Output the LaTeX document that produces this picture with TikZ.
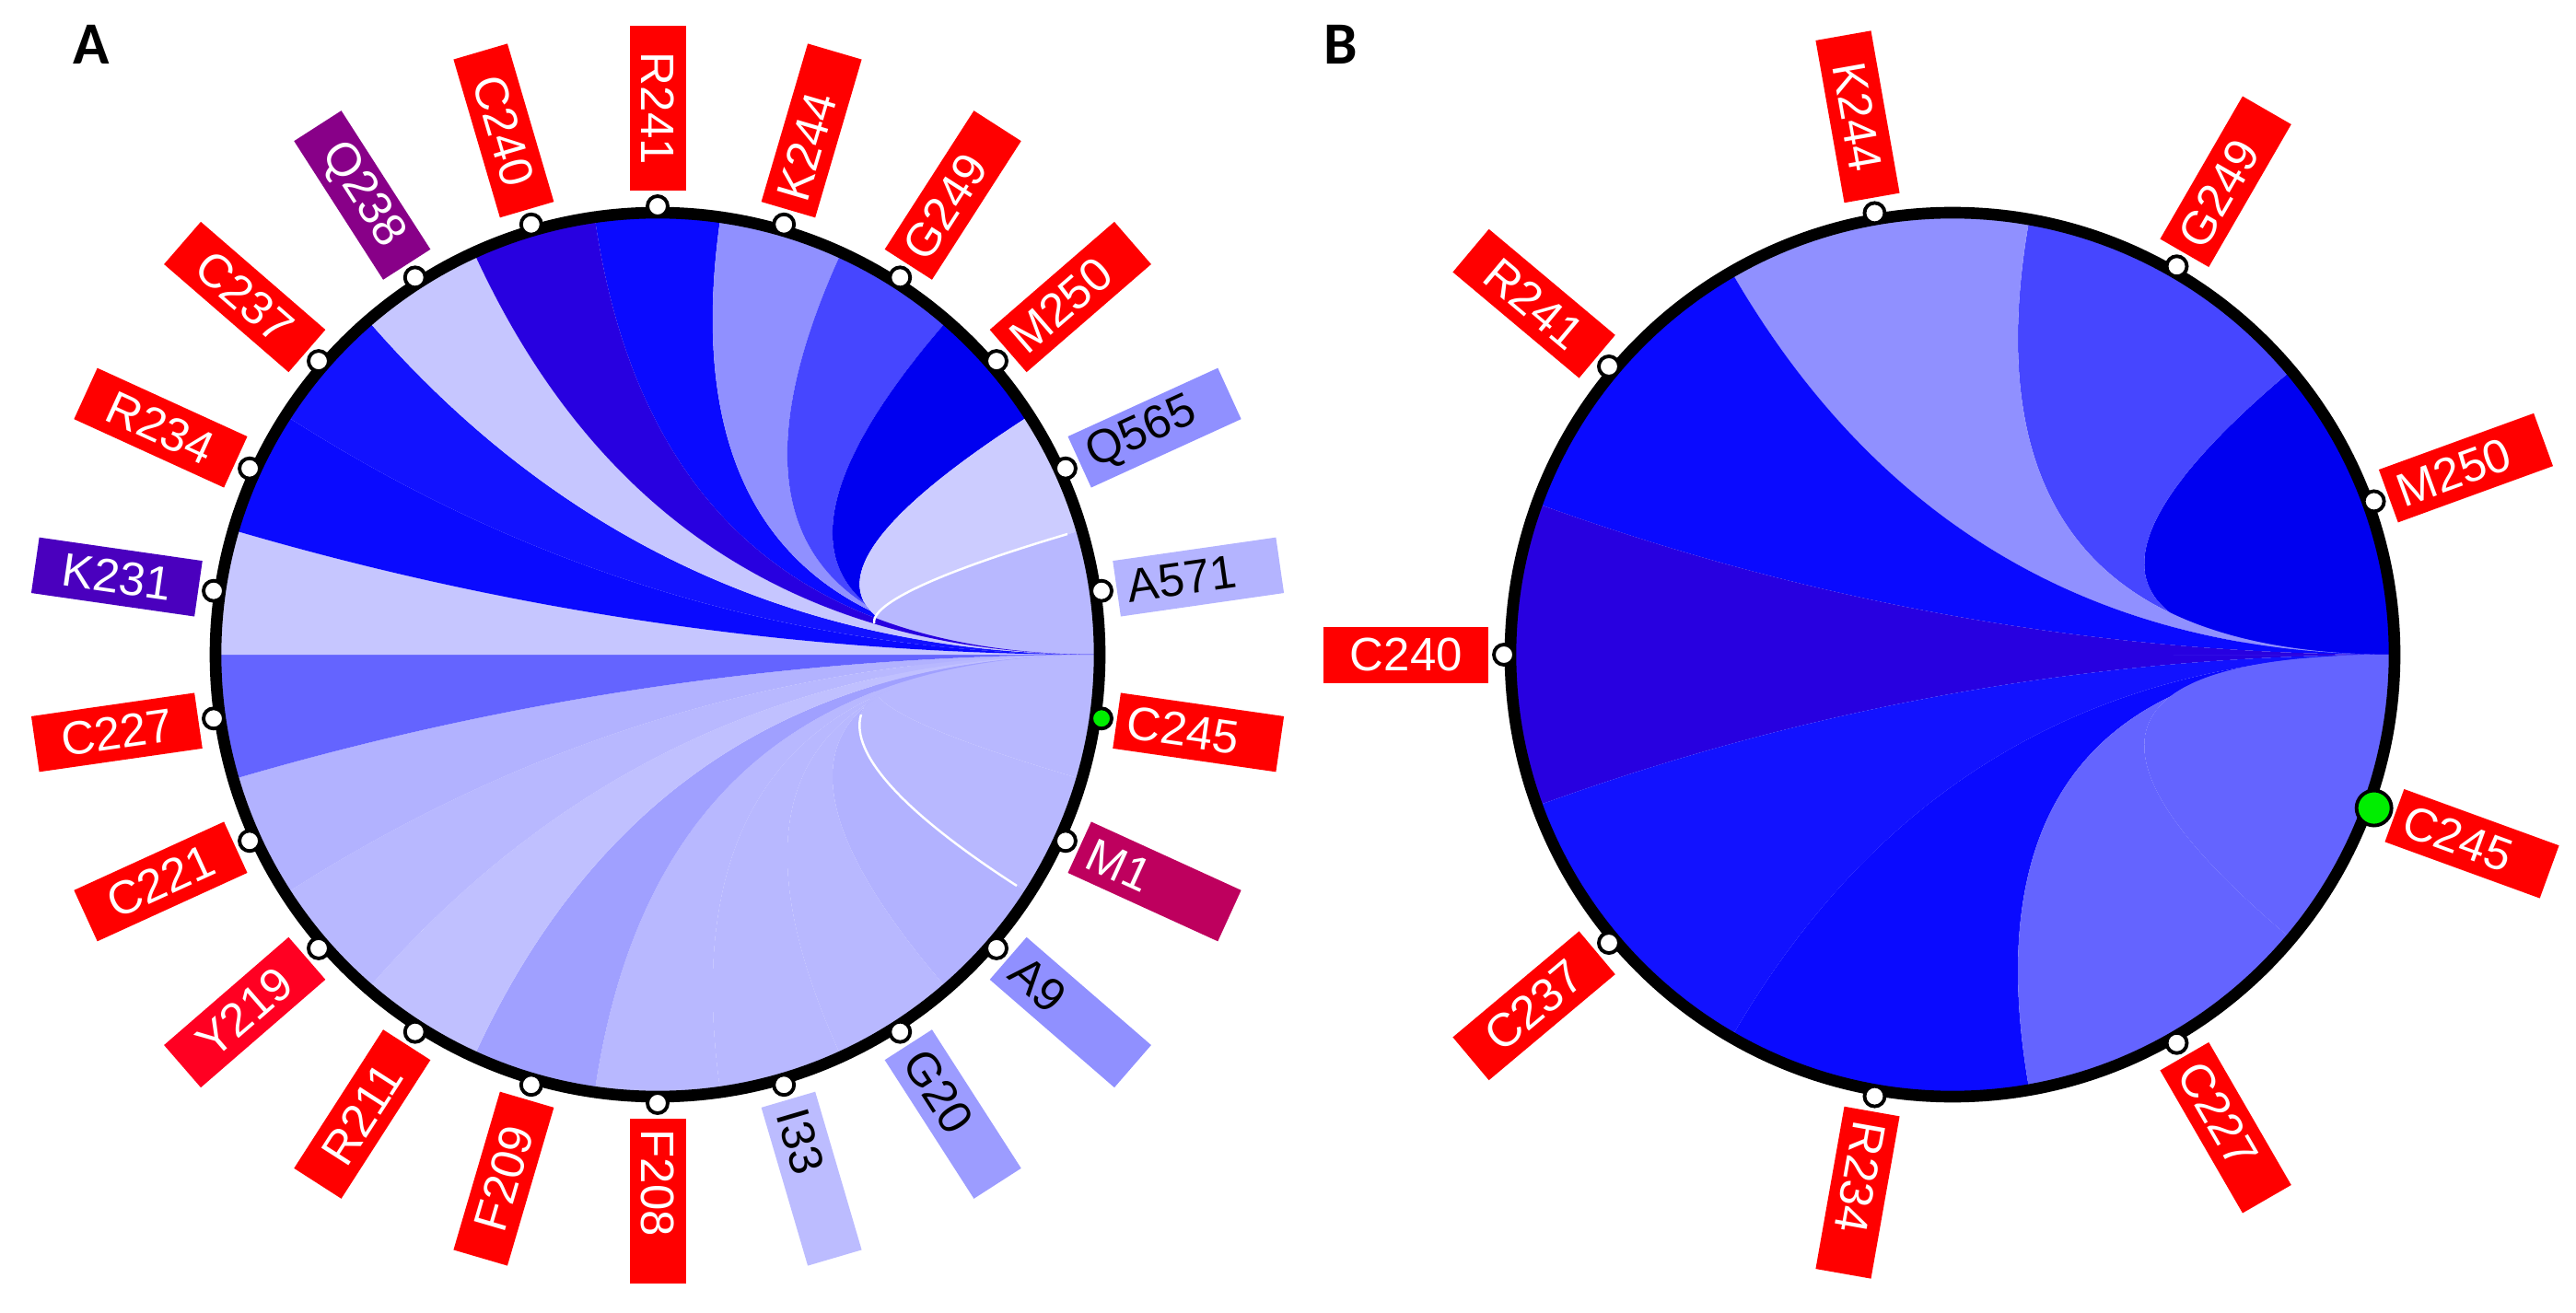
\documentclass[tikz,border=0pt]{standalone}
\usepackage{fontspec}
\setmainfont{Liberation Sans}
\newfontfamily\panelfont{Carlito}
\usepackage{tikz}

% label boxes
\definecolor{resred}{HTML}{FF0000}
\definecolor{resrose}{HTML}{FF0022}
\definecolor{resplum}{HTML}{880088}
\definecolor{resindigo}{HTML}{4A00BE}
\definecolor{resberry}{HTML}{BE005E}
\definecolor{labmid}{HTML}{9C9CFF}
\definecolor{labpale}{HTML}{B4B4FF}
\definecolor{labpale2}{HTML}{BCBCFF}
\definecolor{dotgreen}{HTML}{00EE00}
% ribbons
\definecolor{bl0}{HTML}{0000F0}
\definecolor{bl1}{HTML}{0A0AFF}
\definecolor{bl2}{HTML}{1212FF}
\definecolor{vio}{HTML}{2800E0}
\definecolor{bl3}{HTML}{4646FF}
\definecolor{bl4}{HTML}{6464FF}
\definecolor{bl5}{HTML}{9090FF}
\definecolor{bl6}{HTML}{A0A0FF}
\definecolor{bl7}{HTML}{B2B2FF}
\definecolor{bl8}{HTML}{B8B8FF}
\definecolor{bl9}{HTML}{C0C0FF}
\definecolor{bl10}{HTML}{C6C6FF}
\definecolor{bl11}{HTML}{CCCCFF}

\begin{document}
\begin{tikzpicture}[
    lab/.style={minimum height=0.61cm, text width=1.55cm, inner xsep=0.12cm, inner ysep=0pt,
        font=\fontsize{14.5}{17}\selectfont},
    labR/.style={lab, anchor=west, align=left},
    labL/.style={lab, anchor=east, align=center},
    dot/.style={circle, draw=black, fill=white, line width=1.1pt, inner sep=0pt, minimum size=0.22cm},
    ring/.style={line width=3.6pt},
    gap/.style={white, line width=0.7pt},
    panel/.style={font=\panelfont\bfseries\fontsize{18.5}{20}\selectfont}]
\useasboundingbox (0,0) rectangle (27.97,14.25);

\node[panel] (pA) at (0.99,13.77) {A};
\node[panel] (pB) at (14.56,13.77) {B};

% panel A
\begin{scope}[shift={(7.14,7.14)}]
\foreach \a/\c in {90/bl1, 73.636/bl5, 57.273/bl3, 40.909/bl0, 24.545/bl11, 8.182/bl8,
    -8.182/bl8, -24.545/bl8, -40.909/bl7, -57.273/bl8, -73.636/bl8, -90/bl8,
    -106.364/bl6, -122.727/bl9, -139.091/bl8, -155.455/bl7, -171.818/bl4,
    171.818/bl10, 155.455/bl1, 139.091/bl2, 122.727/bl10, 106.364/vio}
  \fill[fill=\c] ({\a-8.1818}:4.8) arc[start angle=\a-8.1818, end angle=\a+8.1818, radius=4.8]
    .. controls ({\a+8.1818}:1.6) and (0:1.6) .. (0:4.8)
    .. controls (0:1.6) and ({\a-8.1818}:1.6) .. ({\a-8.1818}:4.8) -- cycle;
% thin gaps
\draw[gap] (4.45,1.31) .. controls (3.07,0.90) and (2.32,0.56) .. (2.35,0.34);
\draw[gap] (3.90,-2.51) .. controls (2.69,-1.73) and (2.08,-1.08) .. (2.21,-0.65);
\draw[ring] (0,0) circle (4.8);

\foreach \a/\t/\bg/\fg in {73.636/K244/resred/white, 57.273/G249/resred/white,
    40.909/M250/resred/white, 24.545/Q565/bl5/black, 8.182/A571/labpale/black,
    -24.545/M1/resberry/white, -40.909/A9/bl5/black, -57.273/G20/labmid/black,
    -73.636/I33/labpale2/black, -90/F208/resred/white}
{
  \node[dot] (a-d\t) at (\a:4.87) {};
  \node[labR, rotate=\a, fill=\bg, text=\fg] (a-\t) at (\a:5.03) {\t};
}
\foreach \a/\t/\bg/\fg in {90/R241/resred/white, 106.364/C240/resred/white,
    122.727/Q238/resplum/white, 139.091/C237/resred/white, 155.455/R234/resred/white,
    171.818/K231/resindigo/white, -171.818/C227/resred/white, -155.455/C221/resred/white,
    -139.091/Y219/resrose/white, -122.727/R211/resred/white, -106.364/F209/resred/white}
{
  \node[dot] (a-d\t) at (\a:4.87) {};
  \node[labL, rotate=\a-180, fill=\bg, text=\fg] (a-\t) at (\a:5.03) {\t};
}
\node[dot, fill=dotgreen] (a-dC245) at (-8.182:4.87) {};
\node[labR, rotate=-8.182, fill=resred, text=white] (a-C245) at (-8.182:5.03) {C245};
\end{scope}

% panel B
\begin{scope}[shift={(21.20,7.14)}]
\foreach \a/\c in {20/bl0, 60/bl3, 100/bl5, 140/bl1, 180/vio,
    -140/bl2, -100/bl1, -60/bl4, -20/bl4}
  \fill[fill=\c] ({\a-20}:4.8) arc[start angle=\a-20, end angle=\a+20, radius=4.8]
    .. controls ({\a+20}:1.6) and (0:1.6) .. (0:4.8)
    .. controls (0:1.6) and ({\a-20}:1.6) .. ({\a-20}:4.8) -- cycle;
\draw[ring] (0,0) circle (4.8);

\foreach \a/\t in {20/M250, 60/G249, -60/C227, -100/R234}
{
  \node[dot] (b-d\t) at (\a:4.87) {};
  \node[labR, rotate=\a, fill=resred, text=white] (b-\t) at (\a:5.03) {\t};
}
\foreach \a/\t in {100/K244, 140/R241, 180/C240, -140/C237}
{
  \node[dot] (b-d\t) at (\a:4.87) {};
  \node[labL, rotate=\a-180, fill=resred, text=white] (b-\t) at (\a:5.03) {\t};
}
\node[dot, fill=dotgreen, minimum size=0.38cm] (b-dC245) at (-20:4.87) {};
\node[labR, rotate=-20, fill=resred, text=white] (b-C245) at (-20:5.1) {C245};
\end{scope}
\end{tikzpicture}
\end{document}
